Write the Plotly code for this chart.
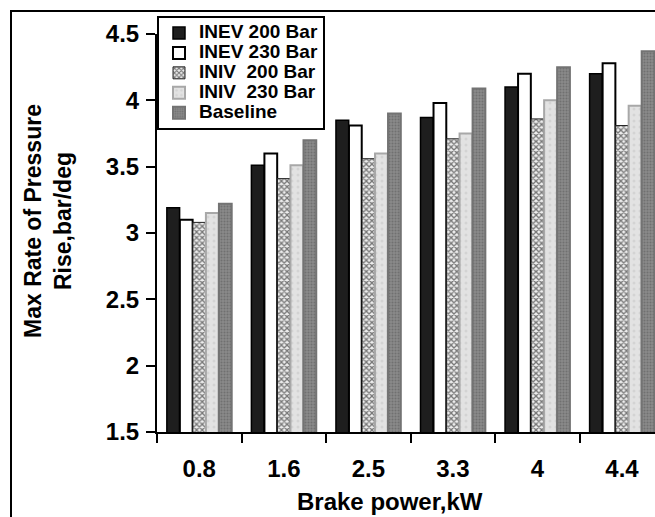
import plotly.graph_objects as go

categories = ["0.8", "1.6", "2.5", "3.3", "4", "4.4"]
series_names = ["INEV 200 Bar", "INEV 230 Bar", "INIV  200 Bar", "INIV  230 Bar", "Baseline"]
inev_200 = [3.19, 3.51, 3.85, 3.87, 4.10, 4.20]
inev_230 = [3.10, 3.60, 3.81, 3.98, 4.20, 4.28]
iniv_200 = [3.08, 3.41, 3.56, 3.71, 3.86, 3.81]
iniv_230 = [3.15, 3.51, 3.60, 3.75, 4.00, 3.96]
baseline = [3.22, 3.70, 3.90, 4.09, 4.25, 4.37]
y_ticks = [1.5, 2, 2.5, 3, 3.5, 4, 4.5]
y_tick_text = ["1.5", "2", "2.5", "3", "3.5", "4", "4.5"]

FONT = "Liberation Sans, Arial, sans-serif"

styles = [
    dict(color="#1e1e1e", line=dict(color="#000000", width=1.5)),
    dict(color="#ffffff", line=dict(color="#000000", width=2)),
    dict(color="#eeeeee", line=dict(color="#222222", width=1),
         pattern=dict(shape="x", fgcolor="#000000", size=4, solidity=0.55)),
    dict(color="#e2e2e2", line=dict(color="#a8a8a8", width=2),
         pattern=dict(shape=".", fgcolor="#c4c4c4", size=6, solidity=0.2)),
    dict(color="#8a8a8a", line=dict(color="#737373", width=2),
         pattern=dict(shape=".", fgcolor="#555555", size=3, solidity=0.4)),
]

fig = go.Figure()
for name, vals, st in zip(series_names, [inev_200, inev_230, iniv_200, iniv_230, baseline], styles):
    label = '<span style="font-size:19px">' + name.replace("  ", "&nbsp; ") + "</span>"
    fig.add_trace(go.Bar(name=label, x=categories, y=vals, marker=st))

fig.update_layout(
    width=655, height=517,
    margin=dict(l=157, r=0, t=34, b=85),
    paper_bgcolor="white", plot_bgcolor="white",
    barmode="group", bargap=0.23, bargroupgap=0.02,
    font=dict(family=FONT, color="black"),
    showlegend=True,
    legend=dict(
        x=0, y=1.045, xanchor="left", yanchor="top",
        bgcolor="white", bordercolor="black", borderwidth=2,
        font=dict(family=FONT, size=13, color="black", weight="bold"),
        tracegroupgap=0, itemwidth=30, traceorder="normal",
    ),
    xaxis=dict(
        type="category", range=[-0.5, 5.39],
        showline=True, linecolor="black", linewidth=2,
        ticks="outside", tickson="boundaries", ticklen=9, tickwidth=2, tickcolor="black",
        tickfont=dict(family=FONT, size=24, weight="bold", color="black"),
        ticklabelstandoff=14,
        showgrid=False, zeroline=False,
    ),
    yaxis=dict(
        range=[1.5, 4.5],
        tickvals=y_ticks, ticktext=y_tick_text,
        showline=True, linecolor="black", linewidth=2,
        ticks="outside", ticklen=9, tickwidth=2, tickcolor="black",
        tickfont=dict(family=FONT, size=24, weight="bold", color="black"),
        ticklabelstandoff=2,
        showgrid=False, zeroline=False,
    ),
    annotations=[
        dict(text="Max Rate of Pressure<br>Rise,bar/deg", textangle=-90,
             xref="paper", yref="paper",
             x=(48 - 157) / 498, y=(432 - 221) / 398,
             xanchor="center", yanchor="middle", showarrow=False,
             font=dict(family=FONT, size=23, weight="bold", color="black")),
        dict(text="Brake power,kW", xref="paper", yref="paper",
             x=(390 - 157) / 498, y=(432 - 501) / 398,
             xanchor="center", yanchor="middle", showarrow=False,
             font=dict(family=FONT, size=24, weight="bold", color="black")),
    ],
    shapes=[
        dict(type="rect", xref="paper", yref="paper",
             x0=(11 - 157) / 498, x1=1.1, y0=-0.4, y1=1 + (34 - 11) / 398,
             line=dict(color="black", width=2), fillcolor="rgba(0,0,0,0)", layer="above"),
    ],
)

fig.write_html("out.html", config={"displayModeBar": False},
               post_script="document.body.style.margin='0px';")
